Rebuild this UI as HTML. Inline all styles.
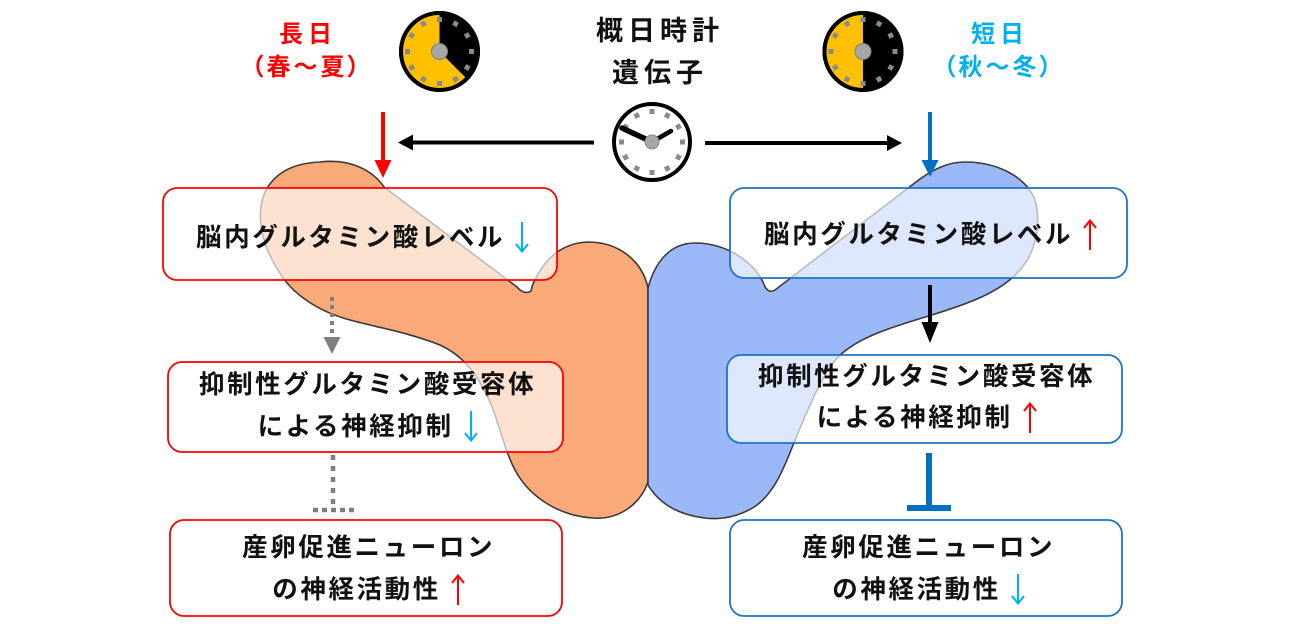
<!DOCTYPE html>
<html>
<head>
<meta charset="utf-8">
<style>
  html, body { margin:0; padding:0; background:#fff; }
  #wrap { position:relative; width:1300px; height:628px; overflow:hidden; background:#fff;
    font-family:"Liberation Sans","Noto Sans CJK JP",sans-serif; }
  svg.main { position:absolute; left:0; top:0; }
  .t { position:absolute; width:500px; text-align:center; white-space:nowrap;
    line-height:42px; height:42px; font-weight:700; color:#111; }
  .bx { font-size:25.5px; letter-spacing:2.6px; padding-left:2.6px; }
  .lbl { font-size:24px; }
  .ar { display:inline-block; vertical-align:middle; margin-left:10px; margin-top:-4px; }
</style>
</head>
<body>
<div id="wrap">
<svg class="main" width="1300" height="628" viewBox="0 0 1300 628" xmlns="http://www.w3.org/2000/svg">
  <!-- brain shapes -->
  <path d="M 320 162 C 352 158, 374 172, 384 187 L 517 287 C 521 292, 527 294, 531 291 C 532 288, 532 285, 534 282 C 545 258, 562 243, 588 242 C 618 242, 642 260, 648 288 L 648 482 C 640 505, 618 520, 593 518 C 560 516, 530 498, 515 470 C 502 445, 498 415, 485 392 C 475 372, 462 355, 440 345 C 410 333, 380 328, 350 320 C 320 312, 292 295, 278 270 C 262 245, 255 215, 265 192 C 275 172, 295 163, 320 162 Z"
        fill="#F9AA78" stroke="#3a3a3a" stroke-width="1.6"/>
  <path d="M 648 288 C 655 262, 670 243, 695 243 C 725 243, 752 260, 763 282 C 766 291, 770 293, 775 290 L 916 182 C 933 169, 948 162, 965 162 C 995 162, 1025 175, 1035 200 C 1042 225, 1035 255, 1018 272 C 1000 292, 970 303, 935 314 C 900 325, 860 335, 838 357 C 820 378, 808 410, 797 435 C 787 460, 777 490, 757 505 C 740 517, 720 520, 705 518 C 680 515, 660 505, 648 485 L 648 288 Z"
        fill="#9BB9F9" stroke="#3a3a3a" stroke-width="1.6"/>

  <!-- boxes -->
  <g fill="rgba(255,255,255,0.66)" stroke-width="1.8">
    <rect x="163" y="188" width="394" height="92" rx="14" stroke="#FF0000"/>
    <rect x="168" y="362" width="395" height="90" rx="14" stroke="#FF0000"/>
    <rect x="170" y="520" width="392" height="96" rx="14" stroke="#FF0000"/>
    <rect x="730" y="188" width="397" height="90" rx="14" stroke="#1C74C8"/>
    <rect x="727" y="355" width="395" height="88" rx="14" stroke="#1C74C8"/>
    <rect x="730" y="520" width="392" height="96" rx="14" stroke="#1C74C8"/>
  </g>

  <!-- left clock (long day) -->
  <g>
    <circle cx="439.5" cy="51.5" r="38.5" fill="#000" stroke="#000" stroke-width="4"/>
    <path d="M 439.5 51.5 L 466.3 78.3 A 37.9 37.9 0 1 1 439.5 13.6 Z" fill="#FFC000"/>
    <circle cx="439.5" cy="51.5" r="38.5" fill="none" stroke="#000" stroke-width="4"/>
    <g fill="#8a8a8a" transform="translate(439.5 51.5)">
      <rect x="-2.5" y="-34.5" width="5" height="5" transform="rotate(0)"/>
      <rect x="-2.5" y="-34.5" width="5" height="5" transform="rotate(30)"/>
      <rect x="-2.5" y="-34.5" width="5" height="5" transform="rotate(60)"/>
      <rect x="-2.5" y="-34.5" width="5" height="5" transform="rotate(90)"/>
      <rect x="-2.5" y="-34.5" width="5" height="5" transform="rotate(120)"/>
      <rect x="-2.5" y="-34.5" width="5" height="5" transform="rotate(150)"/>
      <rect x="-2.5" y="-34.5" width="5" height="5" transform="rotate(180)"/>
      <rect x="-2.5" y="-34.5" width="5" height="5" transform="rotate(210)"/>
      <rect x="-2.5" y="-34.5" width="5" height="5" transform="rotate(240)"/>
      <rect x="-2.5" y="-34.5" width="5" height="5" transform="rotate(270)"/>
      <rect x="-2.5" y="-34.5" width="5" height="5" transform="rotate(300)"/>
      <rect x="-2.5" y="-34.5" width="5" height="5" transform="rotate(330)"/>
    </g>
    <circle cx="439.5" cy="51.5" r="8" fill="#A6A6A6" stroke="#808080" stroke-width="1"/>
  </g>

  <!-- right clock (short day) -->
  <g>
    <circle cx="863" cy="51.5" r="38.5" fill="#000" stroke="#000" stroke-width="4"/>
    <path d="M 863 51.5 L 863 89.4 A 37.9 37.9 0 0 1 863 13.6 Z" fill="#FFC000"/>
    <circle cx="863" cy="51.5" r="38.5" fill="none" stroke="#000" stroke-width="4"/>
    <g fill="#8a8a8a" transform="translate(863 51.5)">
      <rect x="-2.5" y="-34.5" width="5" height="5" transform="rotate(0)"/>
      <rect x="-2.5" y="-34.5" width="5" height="5" transform="rotate(30)"/>
      <rect x="-2.5" y="-34.5" width="5" height="5" transform="rotate(60)"/>
      <rect x="-2.5" y="-34.5" width="5" height="5" transform="rotate(90)"/>
      <rect x="-2.5" y="-34.5" width="5" height="5" transform="rotate(120)"/>
      <rect x="-2.5" y="-34.5" width="5" height="5" transform="rotate(150)"/>
      <rect x="-2.5" y="-34.5" width="5" height="5" transform="rotate(180)"/>
      <rect x="-2.5" y="-34.5" width="5" height="5" transform="rotate(210)"/>
      <rect x="-2.5" y="-34.5" width="5" height="5" transform="rotate(240)"/>
      <rect x="-2.5" y="-34.5" width="5" height="5" transform="rotate(270)"/>
      <rect x="-2.5" y="-34.5" width="5" height="5" transform="rotate(300)"/>
      <rect x="-2.5" y="-34.5" width="5" height="5" transform="rotate(330)"/>
    </g>
    <circle cx="863" cy="51.5" r="8" fill="#A6A6A6" stroke="#808080" stroke-width="1"/>
  </g>

  <!-- center clock -->
  <g>
    <circle cx="652" cy="142" r="38" fill="#fff" stroke="#000" stroke-width="4"/>
    <g fill="#8a8a8a" transform="translate(652 142)">
      <rect x="-2.5" y="-33" width="5" height="5" transform="rotate(0)"/>
      <rect x="-2.5" y="-33" width="5" height="5" transform="rotate(30)"/>
      <rect x="-2.5" y="-33" width="5" height="5" transform="rotate(60)"/>
      <rect x="-2.5" y="-33" width="5" height="5" transform="rotate(90)"/>
      <rect x="-2.5" y="-33" width="5" height="5" transform="rotate(120)"/>
      <rect x="-2.5" y="-33" width="5" height="5" transform="rotate(150)"/>
      <rect x="-2.5" y="-33" width="5" height="5" transform="rotate(180)"/>
      <rect x="-2.5" y="-33" width="5" height="5" transform="rotate(210)"/>
      <rect x="-2.5" y="-33" width="5" height="5" transform="rotate(240)"/>
      <rect x="-2.5" y="-33" width="5" height="5" transform="rotate(270)"/>
      <rect x="-2.5" y="-33" width="5" height="5" transform="rotate(300)"/>
      <rect x="-2.5" y="-33" width="5" height="5" transform="rotate(330)"/>
    </g>
    <line x1="652" y1="142" x2="622" y2="128" stroke="#000" stroke-width="5.5" stroke-linecap="round"/>
    <line x1="652" y1="142" x2="671" y2="131" stroke="#000" stroke-width="4.5" stroke-linecap="round"/>
    <circle cx="652" cy="142" r="7" fill="#A6A6A6" stroke="#8a8a8a" stroke-width="1"/>
  </g>

  <!-- horizontal black arrows -->
  <line x1="594" y1="142.5" x2="410" y2="142.5" stroke="#000" stroke-width="4"/>
  <polygon points="398,142.5 413,134.5 413,150.5" fill="#000"/>
  <line x1="705" y1="143" x2="890" y2="143" stroke="#000" stroke-width="4"/>
  <polygon points="902,143 887,135 887,151" fill="#000"/>

  <!-- red down arrow -->
  <line x1="383" y1="112" x2="383" y2="162" stroke="#FF0000" stroke-width="4"/>
  <polygon points="374.5,160 391.5,160 383,178" fill="#FF0000"/>
  <!-- blue down arrow -->
  <line x1="930" y1="112" x2="930" y2="162" stroke="#0070C0" stroke-width="4"/>
  <polygon points="921.5,160 938.5,160 930,177" fill="#0070C0"/>

  <!-- left gray dashed arrow -->
  <line x1="332" y1="297" x2="332" y2="338" stroke="#7F7F7F" stroke-width="4" stroke-dasharray="4 4"/>
  <polygon points="323.5,337 340.5,337 332,354" fill="#7F7F7F"/>
  <!-- left gray dotted inhibition -->
  <line x1="333" y1="455" x2="333" y2="505" stroke="#7F7F7F" stroke-width="4.5" stroke-dasharray="5 6"/>
  <line x1="313" y1="510" x2="354" y2="510" stroke="#7F7F7F" stroke-width="4.5" stroke-dasharray="5 4"/>

  <!-- right black arrow -->
  <line x1="930" y1="285" x2="930" y2="325" stroke="#000" stroke-width="4"/>
  <polygon points="921.5,322 938.5,322 930,343" fill="#000"/>
  <!-- right blue inhibition T -->
  <line x1="929" y1="453" x2="929" y2="507" stroke="#0070C0" stroke-width="6"/>
  <rect x="907" y="505" width="44" height="6" fill="#0070C0"/>
</svg>

<!-- top labels -->
<div class="t lbl" style="left:53px; top:14px; color:#FF0000; letter-spacing:5px; padding-left:5px;">長日</div>
<div class="t lbl" style="left:54px; top:47px; color:#FF0000; letter-spacing:3px; padding-left:3px; font-feature-settings:'palt';">（春～夏）</div>
<div class="t lbl" style="left:745px; top:14px; color:#00B0F0; letter-spacing:5px; padding-left:5px;">短日</div>
<div class="t lbl" style="left:746px; top:47px; color:#00B0F0; letter-spacing:3px; padding-left:3px; font-feature-settings:'palt';">（秋～冬）</div>
<div class="t" style="left:405px; top:10px; font-size:27px; letter-spacing:5px; padding-left:5px;">概日時計</div>
<div class="t" style="left:405px; top:52px; font-size:27px; letter-spacing:5px; padding-left:5px;">遺伝子</div>

<!-- left box texts -->
<div class="t bx" style="left:110px; top:217px;">脳内グルタミン酸レベル<svg class="ar" width="14" height="31" viewBox="0 0 14 31"><line x1="7" y1="0" x2="7" y2="29" stroke="#00B0F0" stroke-width="2"/><polyline points="1,22 7,29.5 13,22" fill="none" stroke="#00B0F0" stroke-width="2"/></svg></div>
<div class="t bx" style="left:115px; top:364px;">抑制性グルタミン酸受容体</div>
<div class="t bx" style="left:115px; top:406px;">による神経抑制<svg class="ar" width="14" height="31" viewBox="0 0 14 31"><line x1="7" y1="0" x2="7" y2="29" stroke="#00B0F0" stroke-width="2"/><polyline points="1,22 7,29.5 13,22" fill="none" stroke="#00B0F0" stroke-width="2"/></svg></div>
<div class="t bx" style="left:116px; top:527px;">産卵促進ニューロン</div>
<div class="t bx" style="left:116px; top:569px;">の神経活動性<svg class="ar" width="14" height="31" viewBox="0 0 14 31"><line x1="7" y1="2" x2="7" y2="31" stroke="#FF0000" stroke-width="2"/><polyline points="1,9 7,1.5 13,9" fill="none" stroke="#FF0000" stroke-width="2"/></svg></div>

<!-- right box texts -->
<div class="t bx" style="left:678px; top:214px;">脳内グルタミン酸レベル<svg class="ar" width="14" height="31" viewBox="0 0 14 31"><line x1="7" y1="2" x2="7" y2="31" stroke="#FF0000" stroke-width="2"/><polyline points="1,9 7,1.5 13,9" fill="none" stroke="#FF0000" stroke-width="2"/></svg></div>
<div class="t bx" style="left:674px; top:356px;">抑制性グルタミン酸受容体</div>
<div class="t bx" style="left:674px; top:397px;">による神経抑制<svg class="ar" width="14" height="31" viewBox="0 0 14 31"><line x1="7" y1="2" x2="7" y2="31" stroke="#FF0000" stroke-width="2"/><polyline points="1,9 7,1.5 13,9" fill="none" stroke="#FF0000" stroke-width="2"/></svg></div>
<div class="t bx" style="left:676px; top:527px;">産卵促進ニューロン</div>
<div class="t bx" style="left:676px; top:569px;">の神経活動性<svg class="ar" width="14" height="31" viewBox="0 0 14 31"><line x1="7" y1="0" x2="7" y2="29" stroke="#00B0F0" stroke-width="2"/><polyline points="1,22 7,29.5 13,22" fill="none" stroke="#00B0F0" stroke-width="2"/></svg></div>
</div>
</body>
</html>
